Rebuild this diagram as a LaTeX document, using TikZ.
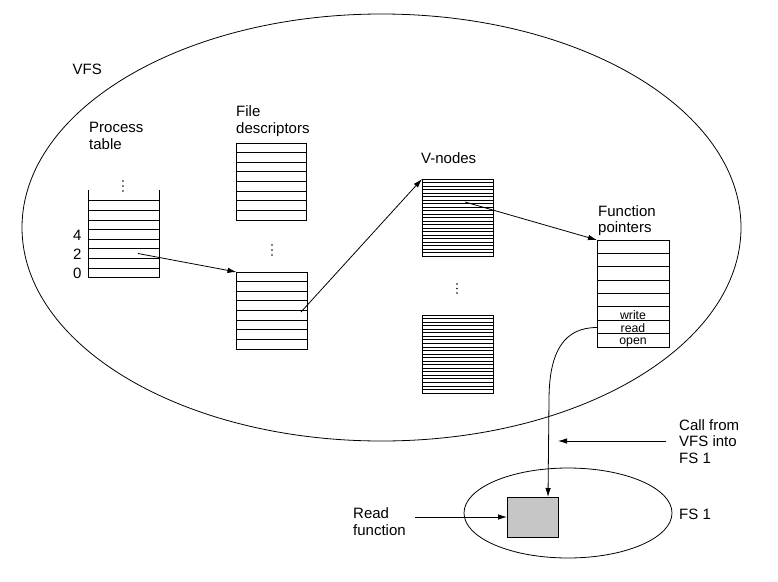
\documentclass[tikz,border=0pt]{standalone}
\usepackage{fontspec}
\setmainfont{Liberation Sans}
\usetikzlibrary{arrows.meta,shapes.geometric}
\begin{document}
\begin{tikzpicture}[x=1pt,y=-1pt,
  lw/.style={line width=0.8pt},
  lbl/.style={anchor=base west, inner sep=0pt, align=left, font=\fontsize{15}{16.5}\selectfont},
  small/.style={anchor=base, inner sep=0pt, font=\fontsize{12.3}{13}\selectfont},
  arr/.style={line width=0.8pt, -{Latex[length=9pt,width=5.5pt]}},
  tbl/.style={draw, line width=0.8pt, anchor=north west, inner sep=0pt, outer sep=0pt},
  oval/.style={draw, ellipse, line width=0.8pt, inner sep=0pt},
]
\useasboundingbox (0,0) rectangle (778,581);

% ellipses
\node[oval, minimum width=719pt, minimum height=427pt] (vfs) at (381.5,227.5) {};
\node[oval, minimum width=208pt, minimum height=90pt] (fs) at (568,513) {};

% labels (multi-line labels are placed at the baseline of their last line)
\node[lbl] (lvfs) at (72.5,74.5) {VFS};
\node[lbl] (lpt) at (89,149.2) {Process\\table};
\node[lbl] (lfd) at (236,133) {File\\descriptors};
\node[lbl] (lvn) at (421,163.5) {V-nodes};
\node[lbl] (lfp) at (598,232.5) {Function\\pointers};
\node[lbl] (lcall) at (679,463) {Call from\\VFS into\\FS 1};
\node[lbl] (lfs) at (679,519.3) {FS 1};
\node[lbl] (lrf) at (353,535) {Read\\function};
\node[lbl] (n4) at (73,240) {4};
\node[lbl] (n2) at (73,259) {2};
\node[lbl] (n0) at (73,278) {0};

% process table (open top)
\node[anchor=north west, inner sep=0pt, minimum width=71pt, minimum height=88pt] (pt) at (88,190) {};
\draw[lw] (88,190) -- (88,277.7) (159,190) -- (159,277.7);
\foreach \i in {0,...,8} \draw[lw] (88,{200.7+\i*9.625}) -- (159,{200.7+\i*9.625});
\foreach \yy in {181,186,191} \fill (123,\yy) circle (0.9pt);

% file descriptor tables
\node[tbl, minimum width=70pt, minimum height=77pt] (fdt) at (236,143) {};
\foreach \i in {1,...,7} \draw[lw] (236,{143+\i*9.625}) -- (306,{143+\i*9.625});
\foreach \yy in {245,250,255} \fill (272,\yy) circle (0.9pt);
\node[tbl, minimum width=71pt, minimum height=77pt] (fdb) at (236.5,272) {};
\foreach \i in {1,...,7} \draw[lw] (236.5,{272+\i*9.625}) -- (307.5,{272+\i*9.625});

% v-node tables
\node[tbl, minimum width=71pt, minimum height=77pt] (vnt) at (422,179) {};
\foreach \i in {1,...,21} \draw[lw] (422,{179+\i*3.5}) -- (493,{179+\i*3.5});
\foreach \yy in {284,288.5,293} \fill (457,\yy) circle (0.9pt);
\node[tbl, minimum width=71pt, minimum height=78pt] (vnb) at (422,315) {};
\foreach \i in {1,...,21} \draw[lw] (422,{315+\i*78/22}) -- (493,{315+\i*78/22});

% function pointers
\node[tbl, minimum width=72pt, minimum height=107pt] (fp) at (597,240) {};
\foreach \i in {1,...,7} \draw[lw] (597,{240+\i*13.375}) -- (669,{240+\i*13.375});
\node[small] (fw) at (633,319.5) {write};
\node[small] (fr) at (633,332.5) {read};
\node[small] (fo) at (633,344) {open};

% read function box
\node[tbl, fill=gray!45, minimum width=51pt, minimum height=40pt] (rf) at (507,497) {};

% connectors
\coordinate (p2) at (138,253.5);
\coordinate (fdp) at (301,312);
\coordinate (vnp) at (465,202);
\coordinate (fpr) at (597,327.5);
\coordinate (rfin) at (548,497);
\coordinate (rdl) at (415,517);
\coordinate (cs) at (666,441);
\coordinate (ce) at (558,441);
\draw[arr] (p2) -- (fdb.north west);
\draw[arr] (fdp) -- (vnt.north west);
\draw[arr] (vnp) -- (fp.north west);
\draw[arr] (fpr) .. controls (565,327.5) and (549,350) .. (549,400) -- (rfin);
\draw[arr] (rdl) -- (rf.west);
\draw[arr] (cs) -- (ce);
\end{tikzpicture}
\end{document}
